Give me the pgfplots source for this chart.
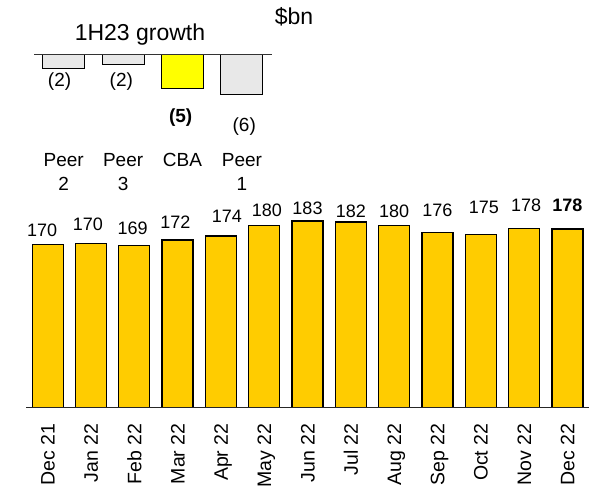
\documentclass[border=0pt]{standalone}
\usepackage{fontspec}
\setmainfont{Liberation Sans}
\usepackage{pgfplots}
\pgfplotsset{compat=1.18}

\definecolor{gold}{HTML}{FFCC00}
\definecolor{cbayellow}{HTML}{FFFF00}
\definecolor{peergray}{HTML}{E8E8E8}

\begin{document}
\begin{tikzpicture}
\path[use as bounding box] (0pt,0pt) rectangle (602pt,487pt);

% monthly balances
\begin{axis}[
    at={(26pt,79.7pt)}, anchor=south west,
    scale only axis,
    width=563pt, height=207.1pt,
    xmin=-0.5, xmax=12.5,
    ymin=75.7, ymax=195,
    axis line style={draw=none},
    ytick=\empty,
    xtick={0,...,12},
    xticklabels={Dec 21,Jan 22,Feb 22,Mar 22,Apr 22,May 22,Jun 22,Jul 22,Aug 22,Sep 22,Oct 22,Nov 22,Dec 22},
    major tick length=0pt,
    xticklabel shift=16pt,
    xticklabel style={rotate=90, anchor=east, inner sep=0pt, text height=14pt, text depth=0pt,
        font=\fontsize{19.5}{19.5}\selectfont},
    clip=false,
    ]
    \addplot[ybar, bar width=31pt, bar shift=0pt, fill=gold, draw=black, line width=1.3pt]
    coordinates {
        (0,169.6) (1,170.2) (2,169.0) (3,172.1) (4,174.4) (5,180.5) (6,183.1)
        (7,182.4) (8,180.6) (9,176.4) (10,175.1) (11,178.6) (12,178.4)
    };
    % value labels
    \addplot[only marks, mark=none, nodes near coords, point meta=explicit symbolic,
        nodes near coords style={anchor=center, font=\fontsize{18}{18}\selectfont}]
    coordinates {
        (-0.13,177.4) [170] (0.93,181.3) [170] (1.96,179.0) [169] (2.95,182.3) [172]
        (4.14,185.5) [174] (5.06,189.4) [180] (6,190.3) [183] (7,188.8) [182]
        (8,188.8) [180] (9,189.4) [176] (10.07,190.9) [175] (11.05,192.2) [178]
        (12,192.2) [\textbf{178}]
    };
    \draw[line width=1.6pt, black!85] (axis cs:-0.5,75.7) -- (axis cs:12.5,75.7);
\end{axis}

% 1H23 growth inset
\begin{axis}[
    at={(34pt,338.8pt)}, anchor=south west,
    scale only axis,
    width=237.6pt, height=93.2pt,
    xmin=-0.5, xmax=3.5,
    ymin=-14, ymax=0,
    axis line style={draw=none},
    ytick=\empty,
    xtick={0,1,2,3},
    xticklabels={Peer\\2,Peer\\3,CBA\\\mbox{},Peer\\1},
    major tick length=0pt,
    xticklabel shift=5pt,
    xticklabel style={align=center, anchor=north, inner sep=0pt,
        font=\fontsize{19}{24}\selectfont},
    clip=false,
    ]
    \addplot[ybar, bar width=42pt, bar shift=0pt, fill=peergray, draw=black, line width=1pt]
    coordinates {(0,-2.1) (1,-1.5) (3,-6)};
    \addplot[ybar, bar width=42pt, bar shift=0pt, fill=cbayellow, draw=black, line width=1pt]
    coordinates {(2,-5)};
    \addplot[only marks, mark=none, nodes near coords, point meta=explicit symbolic,
        nodes near coords style={anchor=center, font=\fontsize{19}{19}\selectfont}]
    coordinates {
        (-0.07,-4.0) [(2)] (0.97,-4.0) [(2)] (1.97,-9.46) [\textbf{(5)}] (3.04,-10.77) [(6)]
    };
    \draw[line width=1pt, black!80] (axis cs:-0.5,0) -- (axis cs:3.5,0);
\end{axis}

\node[font=\fontsize{23}{23}\selectfont] at (140pt,452pt) {1H23 growth};
\node[font=\fontsize{23}{23}\selectfont] at (294pt,470pt) {\$bn};
\end{tikzpicture}
\end{document}
